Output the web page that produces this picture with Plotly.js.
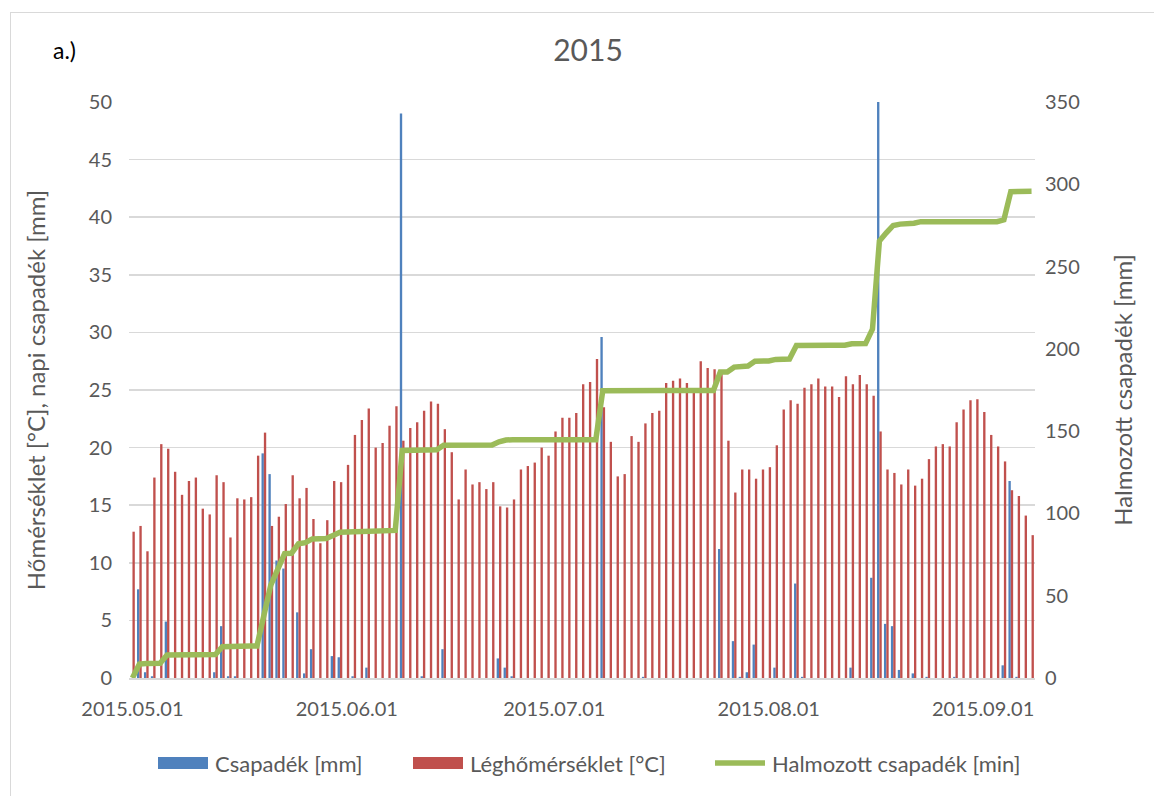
<!DOCTYPE html>
<html>
<head>
<meta charset="utf-8">
<script src="https://cdn.plot.ly/plotly-3.0.1.min.js"></script>
<style>
  html, body { margin: 0; padding: 0; background: #ffffff; overflow: hidden; }
  #chart { position: absolute; left: 0; top: 0; width: 1154px; height: 796px; }
  #frame { position: absolute; left: 10px; top: 12px; width: 1200px; height: 900px;
           border: 1.5px solid #d9d9d9; pointer-events: none; }
</style>
</head>
<body>
<div id="chart"></div>
<div id="frame"></div>
<script>
// ---- DATA (daily values, 2015-05-01 .. 2015-09-08) ----
const startDate = '2015-05-01';
const dayCount = 131;

// Csapadék [mm] (daily precipitation)
const precipitation = [
  0, 7.7, 0.5, 0.15, 0, 4.9, 0, 0, 0, 0,
  0, 0, 0.5, 4.5, 0.15, 0.15, 0, 0, 0, 19.5,
  17.7, 10.2, 9.5, 0, 5.7, 0.4, 2.5, 0, 0, 1.9,
  1.8, 0, 0.15, 0, 0.9, 0, 0, 0, 0, 49,
  0, 0, 0.15, 0, 0, 2.5, 0, 0, 0, 0,
  0, 0, 0, 1.7, 0.9, 0.15, 0, 0, 0, 0,
  0, 0, 0, 0, 0, 0, 0, 0, 29.6, 0,
  0, 0, 0, 0, 0.1, 0, 0, 0, 0, 0,
  0, 0, 0, 0, 0, 11.2, 0, 3.2, 0.1, 0.5,
  2.9, 0, 0, 0.9, 0, 0, 8.2, 0.1, 0, 0,
  0, 0, 0, 0, 0.9, 0, 0, 8.7, 53, 4.7,
  4.5, 0.7, 0, 0.4, 0, 0.1, 0, 0, 0, 0.1,
  0, 0, 0, 0, 0, 0, 1.1, 17.1, 0.1, 0,
  0
];

// Léghőmérséklet [°C] (daily air temperature)
const airTemperature = [
  12.7, 13.2, 11.0, 17.4, 20.3, 19.9, 17.9, 15.9, 17.1, 17.4,
  14.7, 14.2, 17.6, 17.0, 12.2, 15.6, 15.5, 15.7, 19.3, 21.3,
  13.2, 14.0, 15.1, 17.6, 15.6, 16.5, 13.8, 11.7, 13.7, 17.1,
  17.0, 18.5, 21.1, 22.4, 23.4, 20.0, 20.4, 21.9, 23.6, 20.6,
  21.7, 22.2, 23.2, 24.0, 23.8, 21.6, 19.6, 15.5, 18.1, 16.8,
  17.0, 16.4, 17.0, 14.9, 14.8, 15.5, 18.1, 18.4, 18.7, 20.0,
  19.3, 21.4, 22.6, 22.6, 23.0, 25.5, 25.7, 27.7, 23.5, 20.5,
  17.5, 17.7, 21.0, 20.5, 22.1, 23.0, 23.2, 25.6, 25.8, 26.0,
  25.6, 25.1, 27.5, 26.9, 26.8, 26.7, 20.6, 16.1, 18.1, 18.1,
  17.3, 18.1, 18.3, 20.2, 23.3, 24.1, 23.8, 25.2, 25.5, 26.0,
  25.3, 25.3, 24.4, 26.2, 25.5, 26.3, 25.5, 24.5, 21.4, 18.1,
  17.8, 16.8, 18.1, 16.7, 17.3, 19.0, 20.1, 20.3, 20.1, 22.2,
  23.3, 24.1, 24.2, 23.1, 21.1, 20.1, 18.8, 16.3, 15.8, 14.1,
  12.4
];

// Halmozott csapadék [mm] (cumulative precipitation, right axis)
const cumulativePrecip = [
  0, 8.5, 8.8, 9.0, 9.0, 14.0, 14.0, 14.0, 14.0, 14.0,
  14.0, 14.0, 14.3, 19.0, 19.3, 19.5, 19.5, 19.5, 19.5, 39.0,
  56.5, 66.0, 75.6, 75.8, 81.5, 82.2, 84.5, 84.6, 84.7, 86.6,
  88.6, 88.7, 88.9, 88.9, 89.6, 89.7, 89.7, 89.7, 89.7, 138.3,
  138.4, 138.4, 138.6, 138.7, 138.7, 141.5, 141.6, 141.6, 141.6, 141.6,
  141.6, 141.6, 141.6, 143.5, 144.6, 144.8, 144.8, 144.8, 144.8, 144.8,
  144.8, 144.8, 144.8, 144.8, 144.8, 144.8, 144.8, 144.8, 174.6, 174.7,
  174.7, 174.7, 174.7, 174.7, 174.7, 174.7, 174.7, 174.7, 174.7, 174.7,
  174.7, 174.7, 174.7, 174.7, 174.7, 185.9, 186.0, 188.9, 189.1, 189.6,
  192.5, 192.6, 192.6, 193.6, 193.7, 193.8, 202.0, 202.2, 202.2, 202.2,
  202.2, 202.2, 202.2, 202.2, 203.1, 203.2, 203.2, 212.0, 265.5, 270.5,
  275.0, 275.8, 275.9, 276.3, 277.3, 277.3, 277.3, 277.3, 277.3, 277.3,
  277.3, 277.3, 277.3, 277.3, 277.3, 277.3, 278.4, 295.5, 295.6, 295.7,
  295.7
];

const xTickDates = ['2015-05-01', '2015-06-01', '2015-07-01', '2015-08-01', '2015-09-01'];
const xTickLabels = ['2015.05.01', '2015.06.01', '2015.07.01', '2015.08.01', '2015.09.01'];
const seriesNames = ['Csapadék [mm]', 'Léghőmérséklet [°C]', 'Halmozott csapadék [min]'];
const seriesColors = ['#4F81BD', '#C0504D', '#9BBB59'];

// ---- build date categories ----
const dates = [];
const s = new Date(startDate + 'T00:00:00Z');
for (let i = 0; i < dayCount; i++) {
  const d = new Date(s.getTime() + i * 86400000);
  dates.push(d.toISOString().slice(0, 10));
}

const FONT = 'Lato, "Open Sans", sans-serif';
const GREY = '#595959';

// plot area geometry (px) for paper-coordinate conversion
const PL = 129, PR = 1035, PT = 102, PB = 678;
const px2x = p => (p - PL) / (PR - PL);
const px2y = p => (PB - p) / (PB - PT);

const traces = [
  {
    type: 'bar', name: seriesNames[0], x: dates, y: precipitation,
    marker: { color: seriesColors[0], line: { width: 0 } }, yaxis: 'y', showlegend: false
  },
  {
    type: 'bar', name: seriesNames[1], x: dates, y: airTemperature,
    marker: { color: seriesColors[1], line: { width: 0 } }, yaxis: 'y', showlegend: false
  },
  {
    type: 'scatter', mode: 'lines', name: seriesNames[2], x: dates, y: cumulativePrecip,
    line: { color: seriesColors[2], width: 5.5, shape: 'linear' }, yaxis: 'y2', showlegend: false
  }
];

// custom legend (wide swatches like the original)
const legendY = 763;
const legendItems = [
  { kind: 'rect', x0: 158, x1: 208, tx: 213 },
  { kind: 'rect', x0: 413, x1: 463, tx: 468 },
  { kind: 'line', x0: 715, x1: 765, tx: 770 }
];
const shapes = [];
const annotations = [
  {
    text: 'a.)', xref: 'paper', yref: 'paper',
    x: px2x(51), xanchor: 'left', y: px2y(50), yanchor: 'middle',
    showarrow: false, font: { family: FONT, size: 23, color: '#000000' }
  }
];
legendItems.forEach((it, i) => {
  if (it.kind === 'rect') {
    shapes.push({
      type: 'rect', xref: 'paper', yref: 'paper',
      x0: px2x(it.x0), x1: px2x(it.x1), y0: px2y(legendY + 6), y1: px2y(legendY - 6),
      fillcolor: seriesColors[i], line: { width: 0 }
    });
  } else {
    shapes.push({
      type: 'line', xref: 'paper', yref: 'paper',
      x0: px2x(it.x0), x1: px2x(it.x1), y0: px2y(legendY), y1: px2y(legendY),
      line: { color: seriesColors[i], width: 5.5 }
    });
  }
  annotations.push({
    text: seriesNames[i], xref: 'paper', yref: 'paper',
    x: px2x(it.tx), xanchor: 'left', y: px2y(legendY), yanchor: 'middle',
    showarrow: false, font: { family: FONT, size: 22, color: GREY }
  });
});

const layout = {
  width: 1154, height: 796,
  margin: { l: PL, r: 1154 - PR, t: PT, b: 796 - PB, pad: 0 },
  paper_bgcolor: '#ffffff', plot_bgcolor: '#ffffff',
  font: { family: FONT, size: 20, color: GREY },
  barmode: 'group', bargap: 0.32, bargroupgap: 0,
  showlegend: false,
  title: {
    text: '2015', font: { family: FONT, size: 30, color: GREY },
    xref: 'paper', x: px2x(588), xanchor: 'center',
    yref: 'container', y: 1 - 50 / 796, yanchor: 'middle'
  },
  xaxis: {
    type: 'date',
    range: ['2015-04-30 12:00', '2015-09-08 12:00'],
    tickvals: xTickDates, ticktext: xTickLabels,
    showgrid: false, zeroline: false,
    showline: true, linecolor: '#d9d9d9', linewidth: 1.5,
    ticks: '', tickfont: { family: FONT, size: 20, color: GREY },
    ticklabelstandoff: 12
  },
  yaxis: {
    range: [0, 50], dtick: 5, tick0: 0,
    showgrid: true, gridcolor: '#d9d9d9', gridwidth: 1.5,
    zeroline: false, showline: false, ticks: '',
    tickfont: { family: FONT, size: 20, color: GREY },
    ticklabelstandoff: 16,
    title: { text: 'Hőmérséklet [°C], napi csapadék [mm]', font: { family: FONT, size: 24, color: GREY }, standoff: 36 }
  },
  yaxis2: {
    overlaying: 'y', side: 'right',
    range: [0, 350], dtick: 50, tick0: 0,
    showgrid: false, zeroline: false, showline: false, ticks: '',
    tickfont: { family: FONT, size: 20, color: GREY },
    ticklabelstandoff: 9,
    title: { text: 'Halmozott csapadék [mm]', font: { family: FONT, size: 24, color: GREY }, standoff: 36 }
  },
  shapes: shapes,
  annotations: annotations
};

Plotly.newPlot('chart', traces, layout, { displayModeBar: false, staticPlot: true });
</script>
</body>
</html>
